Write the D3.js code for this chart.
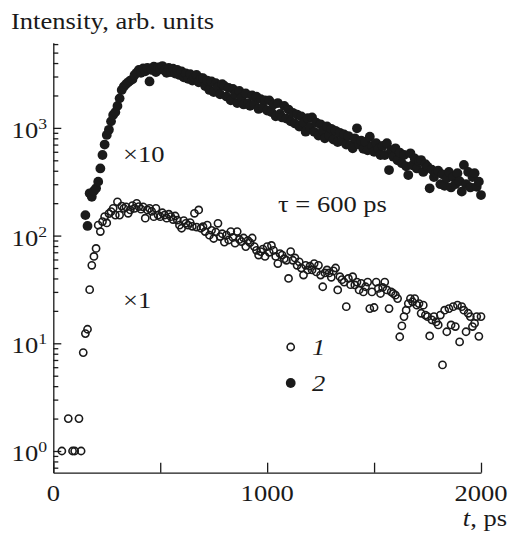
<!DOCTYPE html>
<html>
<head>
<meta charset="utf-8">
<script src="https://cdn.jsdelivr.net/npm/d3@7"></script>
<style>
  html, body { margin: 0; padding: 0; background: #fff; }
  svg { display: block; }
  text { font-family: "Liberation Serif", "Times New Roman", serif; fill: #1a1a1a; }
</style>
</head>
<body>
<svg id="chart" width="508" height="534"></svg>
<script>
// Photoluminescence decay: intensity vs delay time, two curves on a log scale.

// time bins (ps)
const curve1Start = 140;
const curve2Start = 150;
const binWidth = 10;

// curve 1 (open circles, x1): sparse single-photon counts before the rise
const earlyTimes  = [40, 70, 90, 100, 120, 130];
const earlyCounts = [1, 2, 1, 1, 2, 1];

// curve 1 (open circles, x1), bins from 140 ps
const curve1 = [
  8.2, 12.3, 13.5, 31.5, 53, 64,
  76, 125, 109, 135, 150, 131, 160, 167, 179, 155,
  206, 155, 188, 179, 185, 161, 173, 190, 179, 199,
  186, 176, 185, 145, 173, 179, 168, 150, 179, 155,
  150, 163, 155, 145, 158, 150, 141, 152, 139, 125,
  117, 138, 130, 125, 132, 122, 161, 120, 173, 117,
  121, 109, 125, 101, 112, 94, 108, 130, 98, 104,
  87, 101, 91, 109, 96, 85, 109, 92, 88, 95,
  79, 90, 86, 95, 79, 73, 66, 71, 75, 64,
  79, 70, 81, 73, 64, 55, 68, 66, 61, 59,
  40, 71, 59, 62, 53, 57, 50, 43, 53, 48,
  52, 48, 55, 46, 53, 43, 33.5, 45, 48, 45,
  41, 47, 50, 31.3, 41.5, 39, 37, 21.9, 40, 35,
  41.5, 34.8, 37, 31.3, 36, 30, 33.5, 37, 21, 30,
  21.5, 37, 32.3, 29, 33, 37, 31.3, 21, 30, 29,
  28, 26, 11.5, 14.5, 17.7, 20.3, 23.4, 26, 24.3, 26,
  22.6, 23.4, 19, 22.6, 18.3, 17.7, 11.7, 16.5, 17.7, 15.8,
  14.8, 18.3, 6.3, 20.3, 12.8, 21, 14.8, 21.9, 14.3, 22.6,
  10.3, 21.9, 20.3, 12.8, 19, 17.7, 14.3, 15.3, 17.7, 11.6,
  17.7
];

// curve 2 (filled circles, x10), bins from 150 ps
const curve2 = [
  155, 123, 247, 229, 260,
  275, 317, 420, 560, 700, 860, 960, 1150, 1320, 1400,
  1600, 1880, 2250, 2420, 2550, 2650, 2750, 2820, 3100, 3250,
  3450, 3250, 3570, 3350, 3600, 2700, 3450, 3700, 3300, 3650,
  3500, 3750, 3400, 3250, 3600, 3300, 3550, 3200, 3450, 3100,
  3350, 2950, 3200, 2850, 3150, 2750, 2950, 3100, 2650, 2900,
  2900, 2450, 2750, 2250, 2700, 2150, 2600, 2400, 2050, 2550,
  2450, 1950, 2350, 1800, 2300, 2050, 1700, 2200, 1900, 1650,
  2090, 1700, 1600, 2000, 1650, 1950, 1500, 1850, 1550, 1800,
  1450, 1800, 1400, 1650, 1280, 1700, 1350, 1250, 1600, 1220,
  1480, 1150, 1380, 1100, 1330, 1030, 1280, 1120, 922, 1230,
  1020, 1250, 920, 1120, 850, 1080, 940, 800, 1030, 850,
  980, 780, 940, 740, 900, 760, 870, 700, 840, 690,
  646, 800, 991, 700, 760, 640, 740, 620, 828, 680,
  600, 720, 640, 560, 680, 560, 720, 406, 620, 540,
  646, 500, 590, 470, 560, 440, 365, 581, 450, 520,
  420, 490, 503, 390, 460, 436, 275, 410, 350, 380,
  400, 300, 370, 290, 340, 390, 280, 350, 300, 380,
  320, 256, 453, 300, 390, 280, 350, 380, 284, 317,
  238
];

// axis ticks and labels
const xTickValues = [0, 500, 1000, 1500, 2000];
const xTickLabels = ["0", "", "1000", "", "2000"];
const yDecades = [1, 10, 100, 1000];
const yExponents = ["0", "1", "2", "3"];

const points1 = earlyTimes.map((t, i) => ({ t, v: earlyCounts[i] }))
  .concat(curve1.map((v, i) => ({ t: curve1Start + i * binWidth, v })));
const points2 = curve2.map((v, i) => ({ t: curve2Start + i * binWidth, v }));

const svg = d3.select("#chart");
const x = d3.scaleLinear().domain([0, 2000]).range([53.3, 481]);
const y = d3.scaleLog().domain([0.6288, 6180]).range([472.7, 42.7]);

const ink = "#1a1a1a";
const stretch = 1.18;   // the serif lettering is set wide

// minor log ticks between decades
const minorTicks = [];
for (let d = 0.1; d <= 1000; d *= 10) {
  for (let m = 2; m <= 9; m++) {
    const v = +(m * d).toPrecision(3);
    if (v >= y.domain()[0] && v <= y.domain()[1]) minorTicks.push(v);
  }
}

// y axis, ticks pointing into the plot
const yAxisG = svg.append("g").attr("transform", `translate(${x(0)},0)`);
yAxisG.call(d3.axisLeft(y).tickValues(yDecades).tickSize(-8).tickSizeOuter(0).tickFormat(""));
const yMinorG = svg.append("g").attr("transform", `translate(${x(0)},0)`);
yMinorG.call(d3.axisLeft(y).tickValues(minorTicks).tickSize(-5).tickSizeOuter(0).tickFormat(""));
yMinorG.select(".domain").remove();

// x axis, ticks pointing up
const xAxisG = svg.append("g").attr("transform", `translate(0,${y.range()[0]})`);
xAxisG.call(d3.axisBottom(x).tickValues(xTickValues).tickSize(-10).tickSizeOuter(0).tickFormat(""));

svg.selectAll(".domain, .tick line").attr("stroke", ink).attr("stroke-width", 1.3);

// helper for wide serif text
function label(px, py, anchor) {
  return svg.append("text")
    .attr("transform", `translate(${px},${py}) scale(${stretch},1)`)
    .attr("text-anchor", anchor)
    .style("font-size", "22.5px");
}

// y tick labels as powers of ten
yDecades.forEach((d, i) => {
  const t = label(47, y(d) + 10, "end");
  t.append("tspan").text("10");
  t.append("tspan").attr("dy", -9).style("font-size", "15px").text(yExponents[i]);
});

// x tick labels
xTickValues.forEach((v, i) => {
  if (xTickLabels[i]) label(x(v), 501, "middle").text(xTickLabels[i]);
});

// axis titles
label(11, 29, "start").text("Intensity, arb. units");
const xt = label(507, 526, "end");
xt.append("tspan").style("font-style", "italic").text("t");
xt.append("tspan").text(", ps");

// curve 2: filled circles
svg.append("g").selectAll("circle").data(points2).join("circle")
  .attr("cx", d => x(d.t)).attr("cy", d => y(d.v)).attr("r", 4.9)
  .attr("fill", ink);

// curve 1: open circles
svg.append("g").selectAll("circle").data(points1).join("circle")
  .attr("cx", d => x(d.t)).attr("cy", d => y(d.v)).attr("r", 3.6)
  .attr("fill", "none").attr("stroke", ink).attr("stroke-width", 1.6);

// annotations
label(123, 162, "start").text("\u00d710");
label(123, 308, "start").text("\u00d71");
label(278, 212, "start").text("\u03c4 = 600 ps");

// legend
svg.append("circle").attr("cx", 290.7).attr("cy", 347).attr("r", 3.6)
  .attr("fill", "none").attr("stroke", ink).attr("stroke-width", 1.6);
svg.append("circle").attr("cx", 290.7).attr("cy", 383).attr("r", 4.9).attr("fill", ink);
label(312, 355, "start").style("font-style", "italic").text("1");
label(312, 391, "start").style("font-style", "italic").text("2");
</script>
</body>
</html>
